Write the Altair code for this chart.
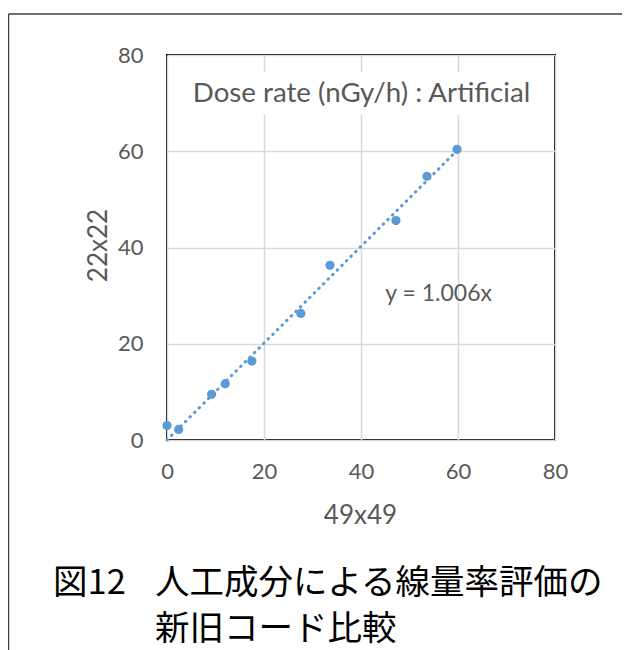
import altair as alt
import pandas as pd

# ---- data ----
x_49 = [0.0, 2.4, 9.2, 12.0, 17.5, 27.6, 33.6, 47.2, 53.6, 59.8]
y_22 = [3.0, 2.2, 9.5, 11.7, 16.4, 26.3, 36.3, 45.6, 54.8, 60.4]
slope = 1.006
axis_ticks = [0, 20, 40, 60, 80]
x_title = "49x49"
y_title = "22x22"
chart_title = "Dose rate (nGy/h) : Artificial"
equation = "y = 1.006x"
equation_x = [56.0]
equation_y = [30.4]
caption_label = ["図12"]
caption_lines = ["人工成分による線量率評価の", "新旧コード比較"]

W, H = 388, 385
FONT = "Lato"
CJK = "Noto Sans CJK JP"
GREY = "#595959"
BLUE = "#5B9BD5"
GRID = "#d9d9d9"

pts = pd.DataFrame({"x": x_49, "y": y_22})
xmin, xmax = min(x_49), max(x_49)
trend = pd.DataFrame({"x": [xmin, xmax], "y": [slope * xmin, slope * xmax]})

xs = alt.Scale(domain=[0, 80], nice=False, zero=False)
ys = alt.Scale(domain=[0, 80], nice=False, zero=False)

x_axis = alt.Axis(
    values=axis_ticks, title=x_title, grid=True, gridColor=GRID, gridWidth=1.5,
    domain=False, ticks=False, labelFlush=False, labelOverlap=False,
    labelFont=FONT, labelFontSize=22, labelColor=GREY, labelPadding=21,
    titleFont=FONT, titleFontSize=26, titleColor=GREY, titleFontWeight="normal",
    titleX=193, titleY=75, titleBaseline="middle", titleAlign="center",
)
y_axis = alt.Axis(
    values=axis_ticks, title=y_title, grid=True, gridColor=GRID, gridWidth=1.5,
    domain=False, ticks=False, labelOverlap=False,
    labelFont=FONT, labelFontSize=22, labelColor=GREY, labelPadding=24,
    titleFont=FONT, titleFontSize=26, titleColor=GREY, titleFontWeight="normal",
    titleX=-69, titleY=190, titleBaseline="middle", titleAlign="center", titleAngle=-90,
)

points = alt.Chart(pts).mark_circle(size=85, color=BLUE, opacity=1).encode(
    x=alt.X("x:Q", scale=xs, axis=x_axis),
    y=alt.Y("y:Q", scale=ys, axis=y_axis),
)
trendline = alt.Chart(trend).mark_line(
    color=BLUE, strokeWidth=3, strokeDash=[0.5, 6], strokeCap="round"
).encode(x=alt.X("x:Q", scale=xs), y=alt.Y("y:Q", scale=ys))

eq_df = pd.DataFrame({"x": equation_x, "y": equation_y, "t": [equation]})
eq_text = alt.Chart(eq_df).mark_text(
    font=FONT, fontSize=23, color=GREY, align="center", baseline="middle"
).encode(x=alt.X("x:Q", scale=xs), y=alt.Y("y:Q", scale=ys), text="t:N")

title_df = pd.DataFrame({"t": [chart_title]})
title_bg = alt.Chart(title_df).mark_rect(color="white").encode(
    x=alt.value(20), x2=alt.value(369), y=alt.value(17), y2=alt.value(60)
)
title_text = alt.Chart(title_df).mark_text(
    font=FONT, fontSize=27.7, color=GREY, align="center", baseline="middle"
).encode(x=alt.value(194.5), y=alt.value(38.5), text="t:N")

frame_df = pd.DataFrame({"k": [0]})
frame_left = alt.Chart(frame_df).mark_rule(color="#404040", strokeWidth=1.5).encode(
    x=alt.value(-158.5), y=alt.value(-41), y2=alt.value(700)
)
frame_top = alt.Chart(frame_df).mark_rule(color="#404040", strokeWidth=1.5).encode(
    x=alt.value(-158.5), x2=alt.value(700), y=alt.value(-41)
)

cap0 = alt.Chart(pd.DataFrame({"t": caption_label})).mark_text(
    font=CJK, fontSize=34.5, color="black", align="left", baseline="middle"
).encode(x=alt.value(-114), y=alt.value(529), text="t:N")
cap1 = alt.Chart(pd.DataFrame({"t": caption_lines[:1]})).mark_text(
    font=CJK, fontSize=34.5, color="black", align="left", baseline="middle"
).encode(x=alt.value(-12), y=alt.value(529), text="t:N")
cap2 = alt.Chart(pd.DataFrame({"t": caption_lines[1:]})).mark_text(
    font=CJK, fontSize=34.5, color="black", align="left", baseline="middle"
).encode(x=alt.value(-12), y=alt.value(575), text="t:N")

chart = alt.layer(
    title_bg, trendline, points, title_text, eq_text,
    frame_left, frame_top, cap0, cap1, cap2,
).properties(
    width=W, height=H,
    padding={"left": 159, "top": 47, "right": 67, "bottom": 210},
    autosize=alt.AutoSizeParams(type="none"),
    background="white",
).configure_view(stroke="black", strokeWidth=2)

chart.save("out.html", embed_options={"renderer": "svg", "actions": False})
